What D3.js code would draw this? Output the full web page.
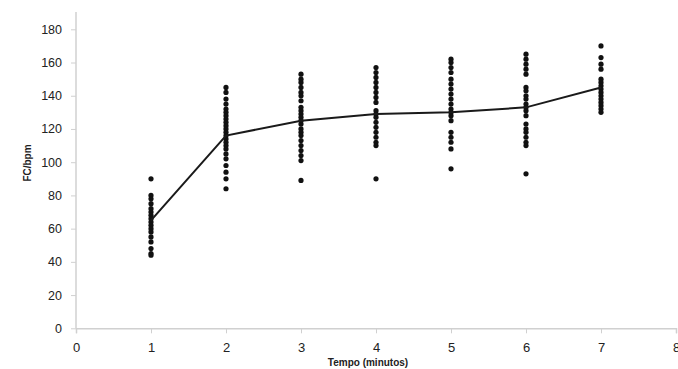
<!DOCTYPE html>
<html><head><meta charset="utf-8">
<script src="https://cdn.jsdelivr.net/npm/d3@7"></script>
<style>body{margin:0;background:#fff}svg{display:block}</style>
</head><body>
<svg id="c" width="678" height="369"></svg>
<script>
const minutes = [1,2,3,4,5,6,7];
const meanFC = [65,116,125,129,130,133,145];
const fc1 = [90,80,78,75,72,70,68,66,64,62,60,58,55,52,48,45,44];
const fc2 = [145,142,138,135,132,130,128,126,124,122,120,118,116,114,112,110,108,105,102,98,94,90,84];
const fc3 = [153,150,148,145,142,140,137,133,131,129,127,125,123,120,118,116,113,110,107,104,101,89];
const fc4 = [157,154,151,148,145,142,139,136,131,129,127,124,121,118,115,112,110,90];
const fc5 = [162,160,157,154,150,147,144,141,138,135,132,130,128,125,118,115,112,108,96];
const fc6 = [165,162,159,156,153,145,143,140,138,135,133,131,128,123,120,118,115,112,110,93];
const fc7 = [170,163,159,156,150,148,146,144,142,140,138,136,134,132,130];
const xTicks = [0,1,2,3,4,5,6,7,8];
const yTicks = [0,20,40,60,80,100,120,140,160,180];

const groups = [fc1,fc2,fc3,fc4,fc5,fc6,fc7];
const svg = d3.select("#c");
const x = d3.scaleLinear().domain([0,8]).range([76,676]);
const y = d3.scaleLinear().domain([0,180]).range([328.3,29.3]);
const font = "'Liberation Sans', Arial, sans-serif";

const gx = svg.append("g").attr("transform","translate(0,328.3)")
  .call(d3.axisBottom(x).tickValues(xTicks).tickSize(5).tickPadding(9).tickFormat(d3.format("d")));
gx.select(".domain").attr("stroke","#d0d0d0").attr("stroke-width",1.5);
gx.selectAll(".tick line").attr("stroke","#d0d0d0");
gx.selectAll("text").attr("fill","#222").style("font-family",font).style("font-size","13px");

const gy = svg.append("g").attr("transform","translate(76,0)")
  .call(d3.axisLeft(y).tickValues(yTicks).tickSize(5).tickPadding(9));
gy.select(".domain").attr("d","M0,328.3V12").attr("stroke","#d0d0d0").attr("stroke-width",1.5);
gy.selectAll(".tick line").attr("stroke","#d0d0d0");
gy.selectAll("text").attr("fill","#222").style("font-family",font).style("font-size","12.5px");

const pts = [];
groups.forEach((g,i)=>g.forEach(v=>pts.push({m:minutes[i],v})));
svg.append("g").selectAll("circle").data(pts).join("circle")
  .attr("cx",d=>x(d.m)).attr("cy",d=>y(d.v)).attr("r",2.6).attr("fill","#111");

const line = d3.line().x((d,i)=>x(minutes[i])).y(d=>y(d));
svg.append("path").datum(meanFC).attr("d",line).attr("fill","none")
  .attr("stroke","#1a1a1a").attr("stroke-width",2);

svg.append("text").attr("transform","translate(31,163) rotate(-90)")
  .attr("text-anchor","middle").style("font-family",font).style("font-size","10px")
  .style("font-weight","bold").attr("fill","#222").text("FC/bpm");
svg.append("text").attr("x",368).attr("y",366).attr("text-anchor","middle")
  .style("font-family",font).style("font-size","10px").style("font-weight","bold")
  .attr("fill","#222").text("Tempo (minutos)");
</script>
</body></html>
